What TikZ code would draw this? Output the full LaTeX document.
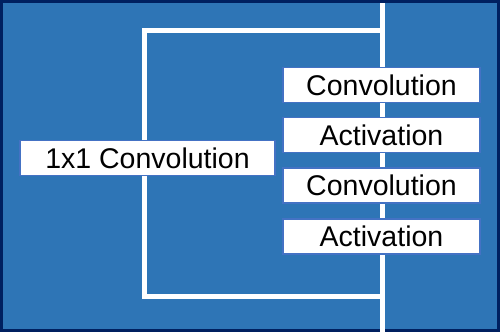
\documentclass[tikz,border=0pt]{standalone}
\usepackage{fontspec}
\setmainfont{Liberation Sans}
\definecolor{bgblue}{RGB}{46,117,182}
\definecolor{navy}{RGB}{0,32,96}
\definecolor{boxedge}{RGB}{68,114,196}
\begin{document}
\begin{tikzpicture}[x=1pt,y=-1pt,
  box/.style={draw=boxedge, line width=1.5pt, fill=white, minimum height=35pt, inner sep=0pt,
    font=\fontsize{28.5}{30}\selectfont, text=black},
  rbox/.style={box, minimum width=197pt},
  wire/.style={draw=white, line width=5pt}]
\useasboundingbox (0,0) rectangle (500,332);
\fill[bgblue] (0,0) rectangle (500,332);
\draw[navy, line width=3pt] (1.5,1.5) rectangle (498.5,330.5);
% coordinates
\coordinate (top) at (382,3);
\coordinate (bot) at (382,332);
\coordinate (s1) at (382,30);
\coordinate (s2) at (144,30);
\coordinate (s3) at (144,296);
\coordinate (s4) at (382,296);
\draw[wire] (top) -- (bot);
\draw[wire, line join=miter] (s1) -- (s2) -- (s3) -- (s4);
\node[box, minimum width=255pt] (one) at (147.5,158) {1x1 Convolution};
\node[rbox] (c1) at (381.5,85) {Convolution};
\node[rbox] (a1) at (381.5,135) {Activation};
\node[rbox] (c2) at (381.5,185.5) {Convolution};
\node[rbox] (a2) at (381.5,236.5) {Activation};
\end{tikzpicture}
\end{document}
